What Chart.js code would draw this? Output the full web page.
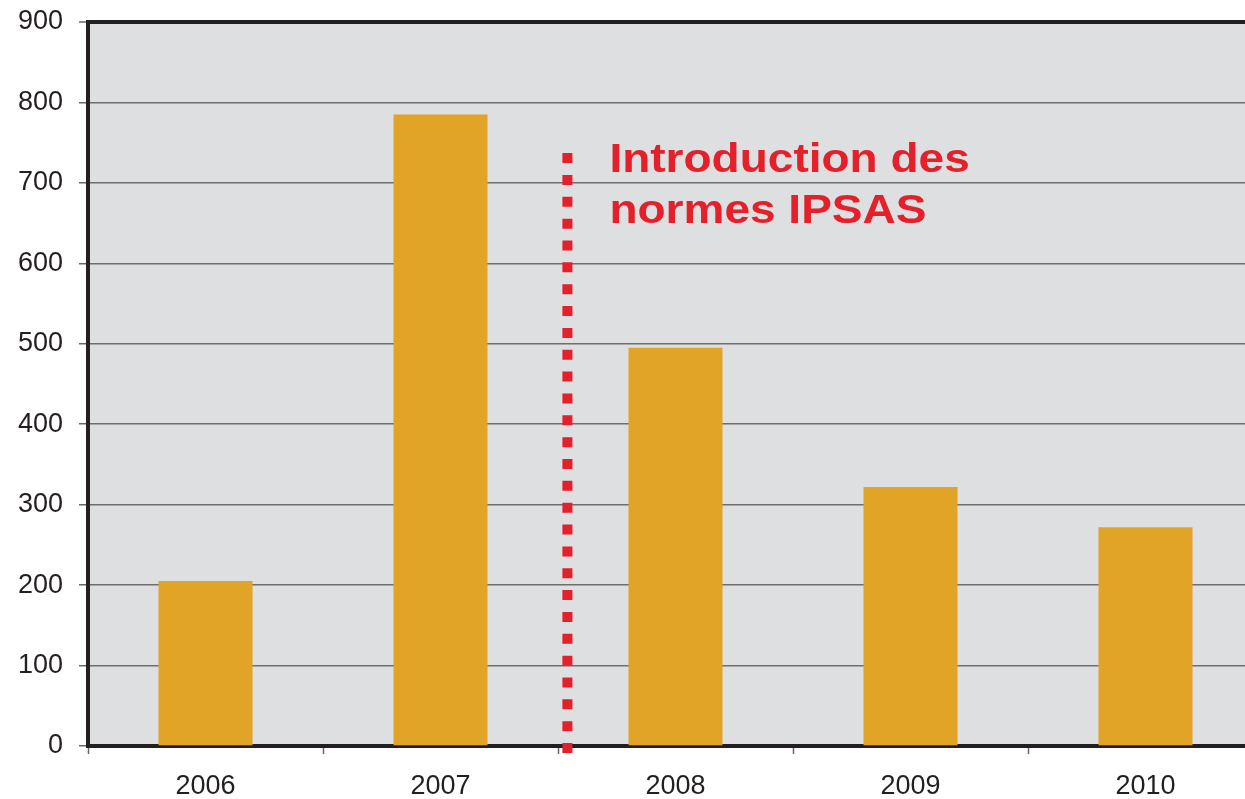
<!DOCTYPE html>
<html>
<head>
<meta charset="utf-8">
<script src="https://cdn.jsdelivr.net/npm/chart.js@4/dist/chart.umd.min.js"></script>
<style>
    html, body { margin: 0; padding: 0; background: #fff; overflow: hidden; }
    #wrap { width: 1275px; height: 799px; }
</style>
</head>
<body>
<div id="wrap"><canvas id="ipsas_chart"></canvas></div>
<script>
// data
var years = ['2006', '2007', '2008', '2009', '2010'];
var amounts = [205, 785, 495, 322, 272];
var yTicks = [0, 100, 200, 300, 400, 500, 600, 700, 800, 900];

// dotted marker between 2007 and 2008 (category index), and its value range
var markerX = 1.54;
var markerFrom = 737;
var markerTo = -9;
var markerText = ['Introduction des', 'normes IPSAS'];

var font = '"Liberation Sans", Arial, sans-serif';

//Plot background
var plotBackground = {
    id: 'plotBackground',
    beforeDraw: function (chart) {
        var a = chart.chartArea;
        var ctx = chart.ctx;
        ctx.save();
        ctx.fillStyle = '#dedfe1';
        ctx.fillRect(a.left, a.top, a.right - a.left, a.bottom - a.top);
        ctx.restore();
    }
};

//Red dotted line + caption
var ipsasMarker = {
    id: 'ipsasMarker',
    afterDatasetsDraw: function (chart) {
        var ctx = chart.ctx;
        var x = chart.scales.x.getPixelForValue(markerX);
        var y1 = chart.scales.y.getPixelForValue(markerFrom);
        var y2 = chart.scales.y.getPixelForValue(markerTo);
        ctx.save();
        ctx.strokeStyle = '#e4202a';
        ctx.lineWidth = 10;
        ctx.lineCap = 'butt';
        ctx.setLineDash([10, 11.85]);
        ctx.beginPath();
        ctx.moveTo(x, y1);
        ctx.lineTo(x, y2);
        ctx.stroke();

        ctx.setLineDash([]);
        ctx.fillStyle = '#e4202a';
        ctx.font = 'bold 40px ' + font;
        ctx.textAlign = 'left';
        ctx.textBaseline = 'alphabetic';
        // the original caption is a little stretched sideways
        ctx.translate(x + 42, y1 + 19);
        ctx.scale(1.15, 1);
        for (var i = 0; i < markerText.length; i++) {
            ctx.fillText(markerText[i], 0, i * 51);
        }
        ctx.restore();
    }
};

new Chart(document.getElementById('ipsas_chart'), {
    type: 'bar',
    data: {
        labels: years,
        datasets: [
            {
                label: 'Montant',
                backgroundColor: '#e2a427',
                data: amounts,
                barPercentage: 0.4,
                categoryPercentage: 1.0
            }
        ]
    },
    options: {
        responsive: true,
        maintainAspectRatio: false,
        animation: false,
        layout: { padding: { top: 22, right: 12, left: 0, bottom: 0 } },
        plugins: {
            legend: { display: false },
            tooltip: { enabled: false }
        },
        scales: {
            x: {
                offset: true,
                afterFit: function (scale) { scale.height = 53; },
                grid: {
                    offset: true,
                    drawOnChartArea: false,
                    drawTicks: true,
                    tickLength: 8,
                    tickColor: '#666',
                    tickWidth: 1.5
                },
                border: { display: true, color: '#231f20', width: 4 },
                ticks: {
                    color: '#231f20',
                    font: { family: font, size: 27 },
                    padding: 16,
                    maxRotation: 0
                }
            },
            y: {
                min: 0,
                max: 900,
                afterFit: function (scale) {
                    scale.width = 88;
                    scale.paddingTop = 0;
                    scale.paddingBottom = 0;
                },
                afterBuildTicks: function (scale) {
                    scale.ticks = yTicks.map(function (v) { return { value: v }; });
                },
                grid: {
                    color: function (c) { return c.tick && c.tick.value === 900 ? '#231f20' : '#6e6e6e'; },
                    lineWidth: function (c) { return c.tick && c.tick.value === 900 ? 4 : 1.5; },
                    tickLength: 9,
                    tickColor: '#666',
                    tickWidth: 1.5
                },
                border: { display: true, color: '#231f20', width: 4 },
                ticks: {
                    color: '#231f20',
                    font: { family: font, size: 27 },
                    padding: 16
                }
            }
        }
    },
    plugins: [plotBackground, ipsasMarker]
});
</script>
</body>
</html>
